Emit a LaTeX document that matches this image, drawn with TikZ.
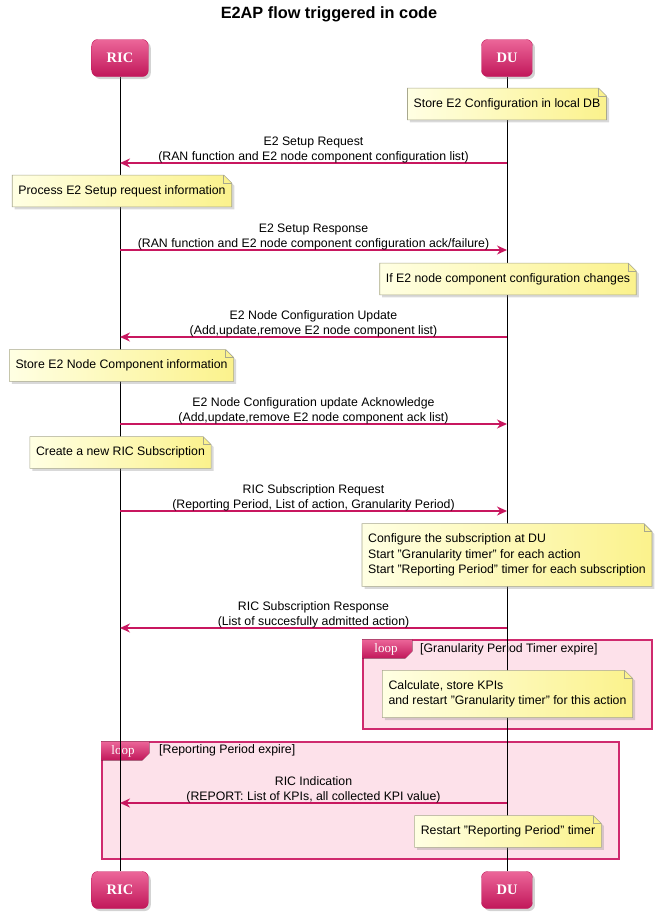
\documentclass[tikz,border=0pt]{standalone}
\usepackage{fontspec}
\setmainfont{Liberation Sans}
\newfontfamily\headfont{Liberation Serif}
\usetikzlibrary{arrows.meta,shadows}
\definecolor{pinklight}{HTML}{EC6699}
\definecolor{pinkdark}{HTML}{C1175A}
\definecolor{msgpink}{HTML}{C8175F}
\definecolor{framepink}{HTML}{CF2A6E}
\definecolor{loopbg}{HTML}{FDE1EA}
\definecolor{notelight}{HTML}{FFFFE3}
\definecolor{notedark}{HTML}{FBF28C}
\definecolor{noteline}{HTML}{A8A88E}
\pgfdeclarelayer{back}
\pgfdeclarelayer{mid}
\pgfsetlayers{back,mid,main}
\newcommand{\dogear}[1]{%
  \begin{pgfonlayer}{mid}
    \draw[memoshape] (#1.south west) -- (#1.north west) -- ([xshift=-8pt]#1.north east)
      -- ([yshift=-8pt]#1.north east) -- (#1.south east) -- cycle;
    \draw[draw=noteline, line width=0.6pt] ([xshift=-8pt]#1.north east) -- ([xshift=-8pt,yshift=-8pt]#1.north east) -- ([yshift=-8pt]#1.north east);
  \end{pgfonlayer}}

\begin{document}
\begin{tikzpicture}[x=1pt,y=-1pt,
  actor/.style={rounded corners=6pt, top color=pinklight, bottom color=pinkdark, draw=pinkdark,
    text=white, font=\headfont\bfseries\fontsize{14.5}{16}\selectfont, minimum height=37pt, inner xsep=15pt,
    drop shadow={opacity=0.35, shadow xshift=2.5pt, shadow yshift=-2.5pt}},
  life/.style={line width=0.8pt},
  msg/.style={draw=msgpink, line width=1.4pt, -{Stealth[length=10pt,width=9pt]}},
  lbl/.style={align=center, font=\fontsize{12.3}{15}\selectfont, inner sep=0.5pt, above=-1pt},
  memo/.style={align=left, font=\fontsize{12.3}{15.5}\selectfont, inner xsep=6pt, inner ysep=10pt},
  memoshape/.style={draw=noteline, line width=0.6pt, left color=notelight, right color=notedark,
    drop shadow={opacity=0.3, shadow xshift=2.5pt, shadow yshift=-2.5pt}},
  frame/.style={draw=framepink, line width=1.3pt, fill=loopbg},
  tab/.style={font=\headfont\fontsize{13}{14}\selectfont, text=white, inner sep=0pt},
  guard/.style={font=\fontsize{12.3}{14}\selectfont, anchor=west, inner sep=0pt}]
\useasboundingbox (0,0) rectangle (658,921);

\node[font=\bfseries\fontsize{16.3}{18}\selectfont] (title) at (329,14) {E2AP flow triggered in code};

\node[actor] (ricA) at (120,58) {RIC};
\node[actor] (duA) at (507,58) {DU};
\node[actor] (ricB) at (120,890) {RIC};
\node[actor] (duB) at (507,890) {DU};

\begin{pgfonlayer}{back}
  \node[frame, minimum width=289pt, minimum height=89pt] (loopA) at (507.5,684.5) {};
  \fill[top color=pinklight, bottom color=pinkdark] (loopA.north west) -- ++(50,0) -- ++(0,12) -- ++(-7,7) -- ++(-43,0) -- cycle;
  \node[tab] (tabA) at (386,649) {loop};
  \node[guard] (guardA) at (420,649) {[Granularity Period Timer expire]};
  \node[frame, minimum width=517pt, minimum height=117pt] (loopB) at (360.5,800.5) {};
  \fill[top color=pinklight, bottom color=pinkdark] (loopB.north west) -- ++(48,0) -- ++(0,12) -- ++(-7,7) -- ++(-41,0) -- cycle;
  \node[tab] (tabB) at (123,751) {loop};
  \node[guard] (guardB) at (159,750) {[Reporting Period expire]};
  \draw[life] (ricA) -- (ricB);
  \draw[life] (duA) -- (duB);
\end{pgfonlayer}

\node[memo] (store) at (507,104) {Store E2 Configuration in local DB};
\dogear{store}
\draw[msg] (duA |- 0,163) -- (ricA |- 0,163) node[midway, lbl] {E2 Setup Request\\(RAN function and E2 node component configuration list)};
\node[memo] (process) at (122,191) {Process E2 Setup request information};
\dogear{process}
\draw[msg] (ricA |- 0,250) -- (duA |- 0,250) node[midway, lbl] {E2 Setup Response\\(RAN function and E2 node component configuration ack/failure)};
\node[memo] (change) at (508,279) {If E2 node component configuration changes};
\dogear{change}
\draw[msg] (duA |- 0,337) -- (ricA |- 0,337) node[midway, lbl] {E2 Node Configuration Update\\(Add,update,remove E2 node component list)};
\node[memo] (component) at (121.5,365.5) {Store E2 Node Component information};
\dogear{component}
\draw[msg] (ricA |- 0,424) -- (duA |- 0,424) node[midway, lbl] {E2 Node Configuration update Acknowledge\\(Add,update,remove E2 node component ack list)};
\node[memo] (subscribe) at (120.5,452.5) {Create a new RIC Subscription};
\dogear{subscribe}
\draw[msg] (ricA |- 0,511) -- (duA |- 0,511) node[midway, lbl] {RIC Subscription Request\\(Reporting Period, List of action, Granularity Period)};
\node[memo] (configure) at (507,555) {Configure the subscription at DU\\Start "Granularity timer" for each action\\Start "Reporting Period" timer for each subscription};
\dogear{configure}
\draw[msg] (duA |- 0,628) -- (ricA |- 0,628) node[midway, lbl] {RIC Subscription Response\\(List of succesfully admitted action)};
\node[memo] (calc) at (507.5,694) {Calculate, store KPIs\\and restart "Granularity timer" for this action};
\dogear{calc}
\draw[msg] (duA |- 0,803) -- (ricA |- 0,803) node[midway, lbl] {RIC Indication\\(REPORT: List of KPIs, all collected KPI value)};
\node[memo] (restart) at (508,831.5) {Restart "Reporting Period" timer};
\dogear{restart}
\end{tikzpicture}
\end{document}
